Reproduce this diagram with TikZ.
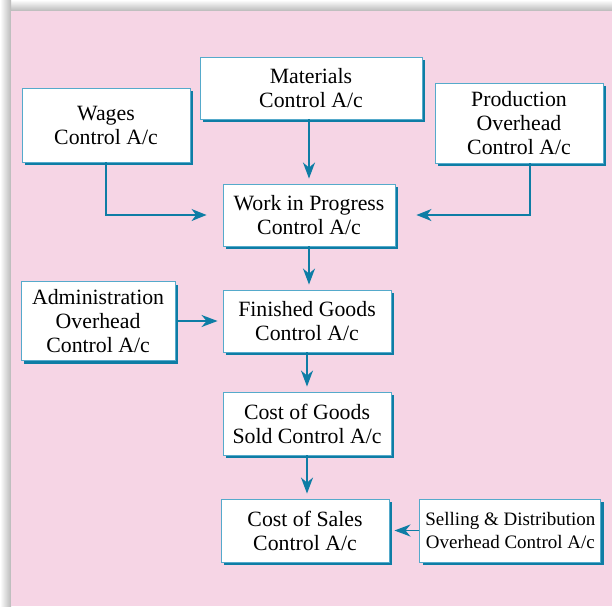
\documentclass[tikz,border=0pt]{standalone}
\usepackage{fontspec}
\setmainfont{Liberation Serif}
\usepackage{xcolor}
\usepackage{tikz}
\usetikzlibrary{arrows.meta, positioning, calc, shadows}

\definecolor{fundo}{HTML}{F6D5E5}
\definecolor{azul}{HTML}{0E7DA5}
\definecolor{borda}{HTML}{55AACB}

\begin{document}
\begin{tikzpicture}[x=1pt, y=-1pt,
            conta/.style={draw=borda, line width=0.9pt, fill=white, align=center, inner sep=0pt,
                font=\fontsize{21.8}{24}\selectfont,
                drop shadow={shadow xshift=3pt, shadow yshift=-3pt, fill=azul, opacity=1}},
            seta/.style={draw=azul, line width=1.8pt, -{Stealth[length=16pt, width=12pt, inset=5pt]}, shorten >=5pt},
            fluxo/.style={draw=azul, line width=1.3pt, -{Stealth[length=15pt, width=12pt, inset=4.5pt]}}
        ]
            \useasboundingbox (0,0) rectangle (612,606);

            % Fundo rosa com borda sombreada
            \shade[top color=white, bottom color=gray!55] (0,0) rectangle (612,11);
            \shade[left color=white, right color=gray!55] (0,0) rectangle (11,606);
            \fill[fundo] (11,11) rectangle (612,606);

            % Coluna central de contas
            \node[conta, minimum width=222pt, minimum height=62pt] (mat) at (311,88) {Materials\\Control A/c};
            \node[conta, minimum width=172pt, minimum height=62pt] (wip) at (309,215) {Work in Progress\\Control A/c};
            \node[conta, minimum width=168pt, minimum height=62pt] (fg) at (307,321) {Finished Goods\\Control A/c};
            \node[conta, minimum width=168pt, minimum height=63pt] (cogs) at (307,423.5) {Cost of Goods\\Sold Control A/c};
            \node[conta, minimum width=168pt, minimum height=63pt] (cos) at (305,530.5) {Cost of Sales\\Control A/c};

            % Contas laterais
            \node[conta, minimum width=168pt, minimum height=74pt] (wag) at (106,125) {Wages\\Control A/c};
            \node[conta, minimum width=168pt, minimum height=80pt] (prod) at (519,123) {Production\\Overhead\\Control A/c};
            \node[conta, minimum width=154pt, minimum height=79pt, left=47pt of fg] (adm) {Administration\\Overhead\\Control A/c};
            \node[conta, minimum width=181pt, minimum height=63pt, right=30pt of cos,
                font=\fontsize{19}{23}\selectfont] (sell) {Selling \& Distribution\\Overhead Control A/c};

            % Setas principais
            \draw[seta] (wip.north |- mat.south) -- (wip.north);
            \draw[seta] (wip.south) -- (wip.south |- fg.north);
            \draw[seta] (fg) -- (cogs);
            \draw[seta] (cogs.south) -- (cogs.south |- cos.north);
            \draw[seta] (adm) -- (fg);
            \draw[seta] (sell) -- (cos);

            % Setas com cotovelo
            \draw[fluxo, shorten >=16pt] (wag.south) |- (wip.west);
            \draw[fluxo, shorten >=21pt] ([xshift=11pt]prod.south) |- (wip.east);
        \end{tikzpicture}
\end{document}
